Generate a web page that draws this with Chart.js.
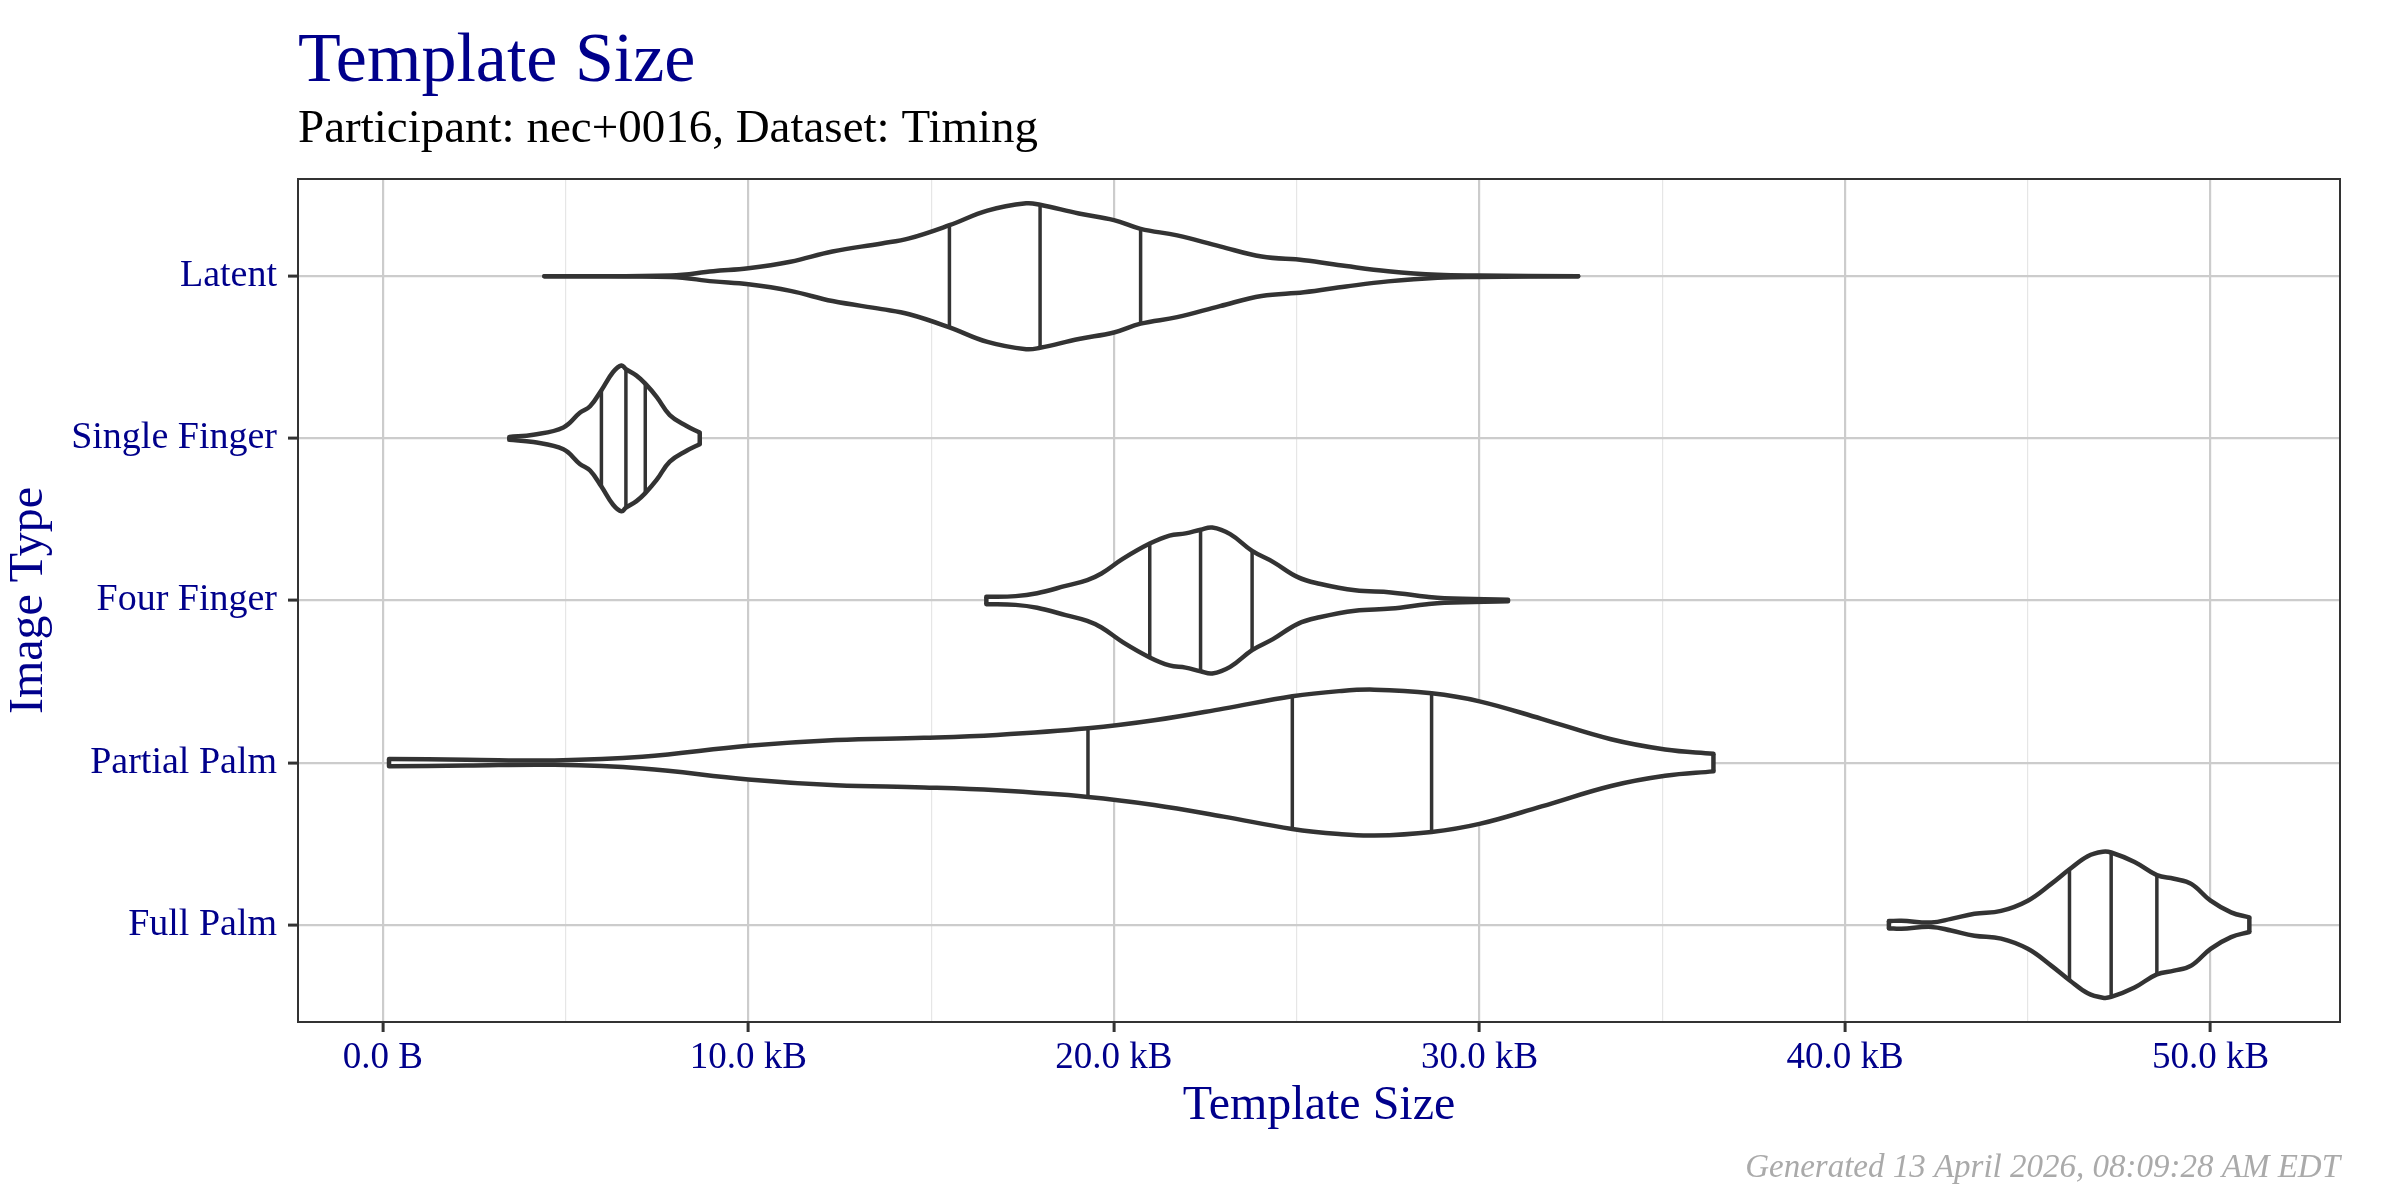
<!DOCTYPE html>
<html>
<head>
<meta charset="utf-8">
<title>Template Size</title>
<script src="https://cdn.jsdelivr.net/npm/chart.js@4.4.1/dist/chart.umd.min.js"></script>
<style>
  html, body { margin: 0; padding: 0; background: #fff; }
  #wrap { width: 2400px; height: 1200px; }
</style>
</head>
<body>
<div id="wrap"><canvas id="myChart" width="2400" height="1200"></canvas></div>
<script>
// categories, bottom to top (y = index + 1)
var categories = ['Full Palm', 'Partial Palm', 'Four Finger', 'Single Finger', 'Latent'];

// template size (kB) and relative density (0..1)
var latentX = [4.42, 7.88, 9.04, 10.0, 11.15, 12.3, 13.65, 14.4, 15.5, 16.54, 17.6, 17.98, 19.04, 20.0, 20.73, 21.73, 22.9, 24.04, 25.2, 26.35, 27.5, 28.85, 30.0, 32.7];
var latentD = [0, 0.01, 0.07, 0.11, 0.20, 0.34, 0.45, 0.52, 0.70, 0.90, 1.0, 0.98, 0.86, 0.77, 0.65, 0.56, 0.41, 0.27, 0.22, 0.14, 0.07, 0.02, 0.01, 0];

var singleX = [3.46, 4.12, 4.94, 5.39, 5.67, 5.98, 6.30, 6.53, 6.65, 6.94, 7.18, 7.49, 7.85, 8.31, 8.67];
var singleD = [0.02, 0.05, 0.15, 0.35, 0.44, 0.66, 0.91, 1.0, 0.95, 0.86, 0.75, 0.57, 0.32, 0.17, 0.08];

var fourX = [16.51, 17.31, 17.9, 18.68, 19.27, 19.66, 20.24, 20.98, 21.52, 21.96, 22.37, 22.69, 23.18, 23.78, 24.35, 25.03, 25.62, 26.6, 27.58, 28.56, 29.04, 30.78];
var fourD = [0.05, 0.06, 0.10, 0.20, 0.28, 0.37, 0.57, 0.78, 0.89, 0.92, 0.97, 1.0, 0.91, 0.68, 0.53, 0.32, 0.23, 0.14, 0.11, 0.05, 0.03, 0.01];

var partialX = [0.17, 2.29, 4.7, 7.1, 10.0, 12.4, 14.8, 16.8, 19.29, 21.1, 23.0, 24.88, 26.16, 27.12, 28.69, 30.0, 31.7, 33.6, 35.08, 36.4];
var partialD = [0.05, 0.04, 0.03, 0.08, 0.23, 0.31, 0.34, 0.38, 0.47, 0.58, 0.74, 0.91, 0.98, 1.0, 0.95, 0.84, 0.60, 0.32, 0.18, 0.12];

var fullX = [41.2, 41.54, 42.36, 42.9, 43.54, 44.27, 45.0, 45.64, 46.14, 46.64, 47.05, 47.28, 47.92, 48.53, 49.0, 49.47, 50.0, 50.56, 51.06];
var fullD = [0.05, 0.055, 0.03, 0.08, 0.15, 0.19, 0.33, 0.56, 0.76, 0.94, 1.0, 0.99, 0.86, 0.68, 0.63, 0.56, 0.33, 0.17, 0.10];

// 25%, 50%, 75% quantiles (kB)
var latentQ = [15.5, 17.98, 20.73];
var singleQ = [5.98, 6.65, 7.18];
var fourQ = [20.98, 22.37, 23.78];
var partialQ = [19.29, 24.88, 28.69];
var fullQ = [46.14, 47.28, 48.53];

// x axis ticks
var xMajor = [0, 10, 20, 30, 40, 50];
var xMajorLabels = ['0.0 B', '10.0 kB', '20.0 kB', '30.0 kB', '40.0 kB', '50.0 kB'];
var xMinor = [5, 15, 25, 35, 45];

var ink = '#333333';
var blue = '#00008B';
var serif = '"Liberation Serif", "DejaVu Serif", serif';
var halfWidth = 0.45;

function densityAt(xs, ds, v) {
    for (var i = 0; i < xs.length - 1; i++) {
        if (v >= xs[i] && v <= xs[i + 1]) {
            var t = (v - xs[i]) / (xs[i + 1] - xs[i]);
            return ds[i] + t * (ds[i + 1] - ds[i]);
        }
    }
    return 0;
}

function segment(x, y0, y1, width) {
    return {
        data: [{x: x, y: y0}, {x: x, y: y1}],
        showLine: true, pointRadius: 0, borderColor: ink,
        borderWidth: width, tension: 0, fill: false, borderCapStyle: 'butt'
    };
}

function violin(xs, ds, qs, cy) {
    var sets = [];
    var top = xs.map(function(v, i) { return {x: v, y: cy + halfWidth * ds[i]}; });
    var bottom = xs.map(function(v, i) { return {x: v, y: cy - halfWidth * ds[i]}; });
    sets.push({
        data: top, showLine: true, pointRadius: 0, borderColor: ink, borderWidth: 4.5,
        tension: 0.4, fill: '+1', backgroundColor: '#ffffff',
        borderJoinStyle: 'round', borderCapStyle: 'round'
    });
    sets.push({
        data: bottom, showLine: true, pointRadius: 0, borderColor: ink, borderWidth: 4.5,
        tension: 0.4, fill: false,
        borderJoinStyle: 'round', borderCapStyle: 'round'
    });
    // flat ends of the violin
    var n = xs.length - 1;
    sets.push(segment(xs[0], cy - halfWidth * ds[0], cy + halfWidth * ds[0], 4.5));
    sets.push(segment(xs[n], cy - halfWidth * ds[n], cy + halfWidth * ds[n], 4.5));
    // quantile lines
    qs.forEach(function(q) {
        var h = halfWidth * densityAt(xs, ds, q);
        sets.push(segment(q, cy - h, cy + h, 3.5));
    });
    return sets;
}

var datasets = [].concat(
    violin(fullX, fullD, fullQ, 1),
    violin(partialX, partialD, partialQ, 2),
    violin(fourX, fourD, fourQ, 3),
    violin(singleX, singleD, singleQ, 4),
    violin(latentX, latentD, latentQ, 5)
);

var framePlugin = {
    id: 'frame',
    afterDraw: function(chart) {
        var ctx = chart.ctx, a = chart.chartArea;
        ctx.save();
        ctx.strokeStyle = ink;
        ctx.lineWidth = 2;
        ctx.strokeRect(a.left, a.top, a.right - a.left, a.bottom - a.top);
        ctx.font = 'italic 33px ' + serif;
        ctx.fillStyle = '#AAAAAA';
        ctx.textAlign = 'right';
        ctx.textBaseline = 'alphabetic';
        ctx.fillText('Generated 13 April 2026, 08:09:28 AM EDT', a.right, 1177);
        ctx.restore();
    }
};

var ctx = document.getElementById('myChart');
var myChart = new Chart(ctx, {
    type: 'scatter',
    data: {datasets: datasets},
    plugins: [framePlugin],
    options: {
        responsive: false,
        devicePixelRatio: 1,
        animation: false,
        layout: {padding: {top: 0, left: 0, right: 60, bottom: 70}},
        plugins: {
            legend: {display: false},
            tooltip: {enabled: false},
            filler: {drawTime: 'beforeDatasetsDraw'},
            title: {
                display: true, text: 'Template Size', align: 'start', fullSize: false,
                color: blue, font: {family: serif, size: 70, weight: 'normal', lineHeight: 1},
                padding: {top: 28, bottom: 0}
            },
            subtitle: {
                display: true, text: 'Participant: nec+0016, Dataset: Timing', align: 'start', fullSize: false,
                color: '#000000', font: {family: serif, size: 47, weight: 'normal', lineHeight: 1},
                padding: {top: 8, bottom: 26}
            }
        },
        scales: {
            x: {
                type: 'linear', position: 'bottom', min: -2.32, max: 53.54,
                afterBuildTicks: function(scale) {
                    scale.ticks = xMajor.concat(xMinor).sort(function(a, b) { return a - b; })
                        .map(function(v) { return {value: v}; });
                },
                afterFit: function(scale) { scale.height = 108; },
                ticks: {
                    color: blue, font: {family: serif, size: 37}, padding: 4, maxRotation: 0,
                    autoSkip: false,
                    callback: function(v) {
                        var i = xMajor.indexOf(v);
                        return i >= 0 ? xMajorLabels[i] : '';
                    }
                },
                grid: {
                    color: function(c) { return xMajor.indexOf(c.tick.value) >= 0 ? '#CCCCCC' : '#E6E6E6'; },
                    lineWidth: function(c) { return xMajor.indexOf(c.tick.value) >= 0 ? 2.2 : 1.2; },
                    tickColor: function(c) { return xMajor.indexOf(c.tick.value) >= 0 ? ink : 'rgba(0,0,0,0)'; },
                    tickLength: 10, drawTicks: true, tickWidth: 3
                },
                border: {display: false},
                title: {
                    display: true, text: 'Template Size', color: blue,
                    font: {family: serif, size: 48, lineHeight: 1}, padding: {top: 0, bottom: 0}
                }
            },
            y: {
                type: 'linear', position: 'left', min: 0.4, max: 5.6,
                afterBuildTicks: function(scale) {
                    scale.ticks = categories.map(function(c, i) { return {value: i + 1}; });
                },
                afterFit: function(scale) { scale.width = 298; },
                ticks: {
                    color: blue, font: {family: serif, size: 38}, padding: 11, autoSkip: false,
                    callback: function(v) { return categories[v - 1]; }
                },
                grid: {
                    color: '#CCCCCC', lineWidth: 2.2, tickColor: ink, tickLength: 10, tickWidth: 3
                },
                border: {display: false},
                title: {
                    display: true, text: 'Image Type', color: blue,
                    font: {family: serif, size: 48, lineHeight: 1}, padding: {top: 5, bottom: 0}
                }
            }
        }
    }
});
</script>
</body>
</html>
